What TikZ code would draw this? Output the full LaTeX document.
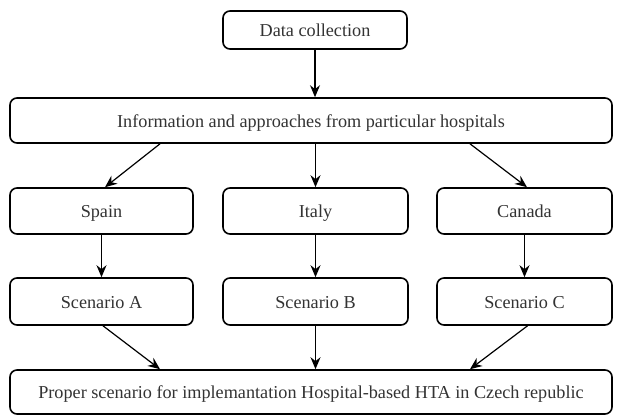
\documentclass[tikz,border=0pt]{standalone}
\usepackage{fontspec}
\setmainfont{Liberation Serif}
\usetikzlibrary{arrows.meta}
\begin{document}
\begin{tikzpicture}[x=1pt,y=-1pt,
  box/.style={draw, line width=1.6pt, rounded corners=7pt, fill=white, inner sep=0pt,
    text height=13pt, text depth=-4pt,
    font=\fontsize{18.2}{22}\selectfont, text=black!80},
  arr/.style={line width=1.2pt, -{Stealth[length=12pt,width=10pt]}}]
\useasboundingbox (0,0) rectangle (617,416);
\fill[white] (0,0) rectangle (617,416);
\node[box, minimum width=184pt, minimum height=38pt] (dc) at (315,30) {Data collection};
\node[box, minimum width=602pt, minimum height=45pt] (info) at (311,120.5) {Information and approaches from particular hospitals};
\node[box, minimum width=183pt, minimum height=46pt] (spain) at (101.5,211) {Spain};
\node[box, minimum width=185pt, minimum height=46pt] (italy) at (315.5,211) {Italy};
\node[box, minimum width=175pt, minimum height=46pt] (canada) at (524.5,211) {Canada};
\node[box, minimum width=183pt, minimum height=47pt] (sa) at (101.5,301.5) {Scenario A};
\node[box, minimum width=185pt, minimum height=47pt] (sb) at (315.5,301.5) {Scenario B};
\node[box, minimum width=175pt, minimum height=47pt] (sc) at (524.5,301.5) {Scenario C};
\node[box, minimum width=602pt, minimum height=44pt] (proper) at (311,392) {Proper scenario for implemantation Hospital-based HTA in Czech republic};
\draw[arr] (dc.south) -- (dc.south |- info.north);
\draw[arr] ([xshift=-151pt]info.south) -- ([xshift=3.5pt]spain.north);
\draw[arr] (italy.north |- info.south) -- (italy.north);
\draw[arr] ([xshift=159pt]info.south) -- ([xshift=2.5pt]canada.north);
\draw[arr] (spain.south) -- (sa.north);
\draw[arr] (italy.south) -- (sb.north);
\draw[arr] (canada.south) -- (sc.north);
\draw[arr] ([xshift=1.5pt]sa.south) -- ([xshift=-151pt]proper.north);
\draw[arr] (sb.south) -- (sb.south |- proper.north);
\draw[arr] ([xshift=3pt]sc.south) -- ([xshift=159pt]proper.north);
\end{tikzpicture}
\end{document}
